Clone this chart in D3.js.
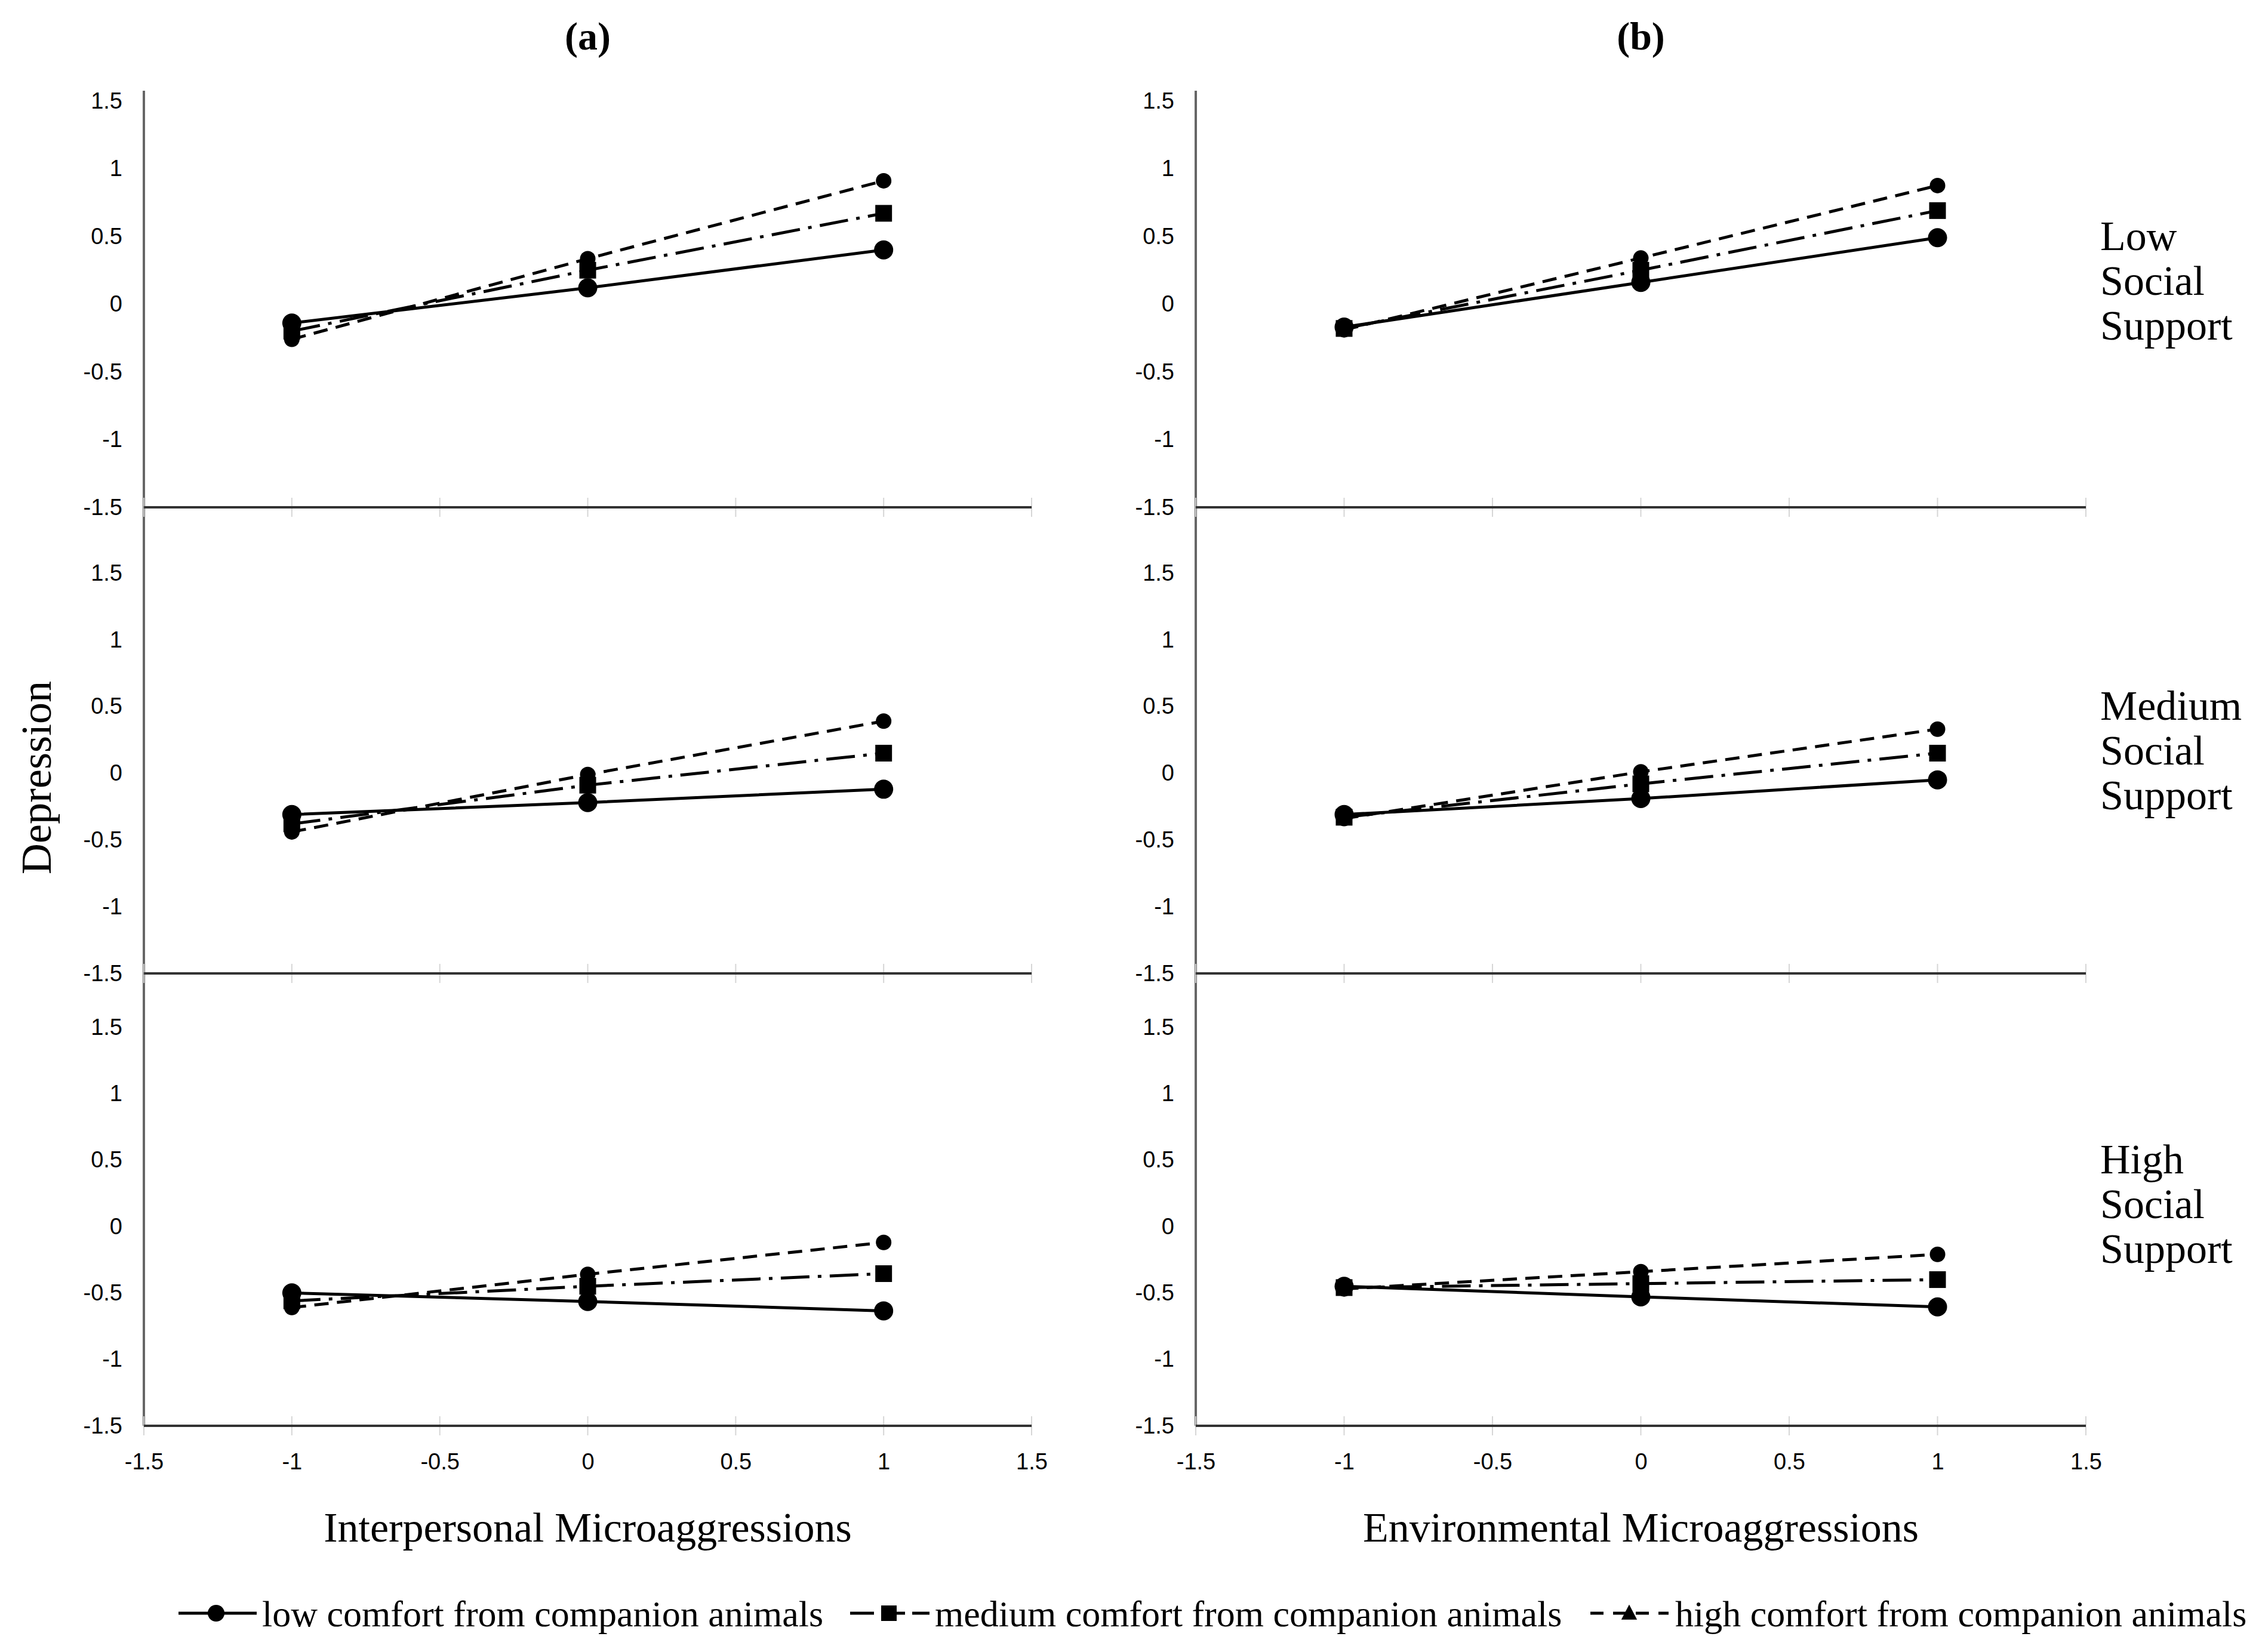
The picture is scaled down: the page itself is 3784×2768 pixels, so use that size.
<!DOCTYPE html>
<html>
<head>
<meta charset="utf-8">
<script src="https://cdn.jsdelivr.net/npm/d3@7"></script>
<style>
  html, body { margin: 0; padding: 0; background: #fff; }
  svg { display: block; }
</style>
</head>
<body>
<div id="chart"></div>
<script>
// Predictor levels (-1 SD, mean, +1 SD) and the shared axis ticks
const predictorLevels = [-1, 0, 1];
const axisTicks = [-1.5, -1, -0.5, 0, 0.5, 1, 1.5];

const panelTitles = ["(a)", "(b)"];
const axisTitles = ["Interpersonal Microaggressions", "Environmental Microaggressions"];
const supportLabels = [
    ["Low", "Social", "Support"],
    ["Medium", "Social", "Support"],
    ["High", "Social", "Support"]
];
const comfortLabels = [
    "low comfort from companion animals",
    "medium comfort from companion animals",
    "high comfort from companion animals"
];

// Panel (a) - rows are low / medium / high social support
const interpLowComfort = [[-0.14, 0.12, 0.40], [-0.31, -0.22, -0.12], [-0.50, -0.565, -0.635]];
const interpMedComfort = [[-0.20, 0.25, 0.67], [-0.38, -0.09, 0.15], [-0.56, -0.45, -0.355]];
const interpHighComfort = [[-0.26, 0.335, 0.91], [-0.44, -0.01, 0.39], [-0.61, -0.36, -0.12]];

// Panel (b)
const envLowComfort = [[-0.17, 0.16, 0.49], [-0.31, -0.19, -0.05], [-0.45, -0.53, -0.605]];
const envMedComfort = [[-0.18, 0.25, 0.69], [-0.33, -0.08, 0.15], [-0.46, -0.43, -0.40]];
const envHighComfort = [[-0.19, 0.34, 0.875], [-0.34, 0.01, 0.33], [-0.47, -0.34, -0.21]];

const panelSeries = [
    [interpLowComfort, interpMedComfort, interpHighComfort],
    [envLowComfort, envMedComfort, envHighComfort]
];

// Layout
const width = 3784, height = 2768;
const panelRanges = [[241, 1728], [2003, 3494]];
const rowRanges = [[850, 169], [1631, 960], [2389, 1721]];
const axisTop = 152;

const serif = "'Liberation Serif', 'Times New Roman', serif";
const sans = "'Liberation Sans', Arial, sans-serif";

// line style + marker per comfort level
const seriesStyle = [
    { dash: null, marker: "circle", size: 16 },
    { dash: "48,14,6,14", marker: "square", size: 28 },
    { dash: "24,14", marker: "circle", size: 13 }
];

const svg = d3.create("svg")
    .attr("width", width)
    .attr("height", height)
    .attr("viewBox", [0, 0, width, height])
    .style("background", "#fff");

function drawMarker(g, kind, size, cx, cy) {
    if (kind === "circle") {
        g.append("circle").attr("cx", cx).attr("cy", cy).attr("r", size).attr("fill", "#000");
    } else if (kind === "square") {
        g.append("rect")
            .attr("x", cx - size / 2).attr("y", cy - size / 2)
            .attr("width", size).attr("height", size)
            .attr("fill", "#000");
    } else {
        const s = size;
        g.append("path")
            .attr("d", `M${cx},${cy - s * 0.6}L${cx + s * 0.55},${cy + s * 0.45}L${cx - s * 0.55},${cy + s * 0.45}Z`)
            .attr("fill", "#000");
    }
}

panelSeries.forEach((seriesList, p) => {
    const x = d3.scaleLinear().domain([-1.5, 1.5]).range(panelRanges[p]);

    // Panel title
    svg.append("text")
        .attr("x", x(0)).attr("y", 60).attr("dy", "0.35em")
        .attr("text-anchor", "middle")
        .style("font-family", serif).style("font-weight", "bold").style("font-size", "66px")
        .text(panelTitles[p]);

    // Continuous vertical axis line through all three rows
    svg.append("line")
        .attr("x1", x(-1.5)).attr("x2", x(-1.5))
        .attr("y1", axisTop).attr("y2", rowRanges[2][0])
        .attr("stroke", "#666").attr("stroke-width", 4);

    rowRanges.forEach((range, r) => {
        const y = d3.scaleLinear().domain([-1.5, 1.5]).range(range);
        const g = svg.append("g");

        // Y axis labels
        const yAxis = g.append("g")
            .attr("transform", `translate(${x(-1.5)},0)`)
            .call(d3.axisLeft(y).tickValues(axisTicks).tickSize(0).tickPadding(36).tickFormat(d => String(d)));
        yAxis.select(".domain").remove();
        yAxis.selectAll("text")
            .style("font-family", sans).style("font-size", "38px").attr("fill", "#000");

        // Faint tick marks along the bottom line
        g.selectAll(".tick-mark")
            .data(axisTicks)
            .join("line")
            .attr("x1", d => x(d)).attr("x2", d => x(d))
            .attr("y1", y(-1.5) - 16).attr("y2", y(-1.5) + 16)
            .attr("stroke", "#d6d6d6").attr("stroke-width", 2);

        // Horizontal line at -1.5
        g.append("line")
            .attr("x1", x(-1.5)).attr("x2", x(1.5))
            .attr("y1", y(-1.5)).attr("y2", y(-1.5))
            .attr("stroke", "#333").attr("stroke-width", 4);

        // Bottom row gets the x tick labels
        if (r === rowRanges.length - 1) {
            const xAxis = g.append("g")
                .attr("transform", `translate(0,${y(-1.5)})`)
                .call(d3.axisBottom(x).tickValues(axisTicks).tickSize(0).tickFormat(d => String(d)));
            xAxis.select(".domain").remove();
            xAxis.selectAll("text")
                .attr("y", 60).attr("dy", "0.35em")
                .style("font-family", sans).style("font-size", "38px").attr("fill", "#000");
        }

        const line = d3.line()
            .x((d, i) => x(predictorLevels[i]))
            .y(d => y(d));

        seriesList.forEach((series, s) => {
            const st = seriesStyle[s];
            const values = series[r];
            g.append("path")
                .datum(values)
                .attr("fill", "none")
                .attr("stroke", "#000")
                .attr("stroke-width", 5)
                .attr("stroke-dasharray", st.dash)
                .attr("d", line);
            values.forEach((v, i) => drawMarker(g, st.marker, st.size, x(predictorLevels[i]), y(v)));
        });

        // Social support label on the right of panel (b)
        if (p === 1) {
            const first = y(0.5) - 2;
            g.append("text")
                .style("font-family", serif).style("font-size", "70px")
                .selectAll("tspan")
                .data(supportLabels[r])
                .join("tspan")
                .attr("x", 3518)
                .attr("y", (d, i) => first + i * 75)
                .attr("dy", "0.35em")
                .text(d => d);
        }
    });

    // X axis title
    svg.append("text")
        .attr("x", x(0)).attr("y", 2558).attr("dy", "0.35em")
        .attr("text-anchor", "middle")
        .style("font-family", serif).style("font-size", "70px")
        .text(axisTitles[p]);
});

// Y axis title
svg.append("text")
    .attr("transform", "translate(60,1303) rotate(-90)")
    .attr("text-anchor", "middle").attr("dy", "0.35em")
    .style("font-family", serif).style("font-size", "72px")
    .text("Depression");

// Legend
const legendY = 2703;
const legendItems = [
    { lineX: [299, 430], markerX: 362, textX: 439 },
    { lineX: [1424, 1557], markerX: 1489, textX: 1566 },
    { lineX: [2664, 2795], markerX: 2729, textX: 2806 }
];
const legendMarkers = [["circle", 14], ["square", 26], ["triangle", 24]];

legendItems.forEach((item, i) => {
    const g = svg.append("g");
    g.append("line")
        .attr("x1", item.lineX[0]).attr("x2", item.lineX[1])
        .attr("y1", legendY).attr("y2", legendY)
        .attr("stroke", "#000").attr("stroke-width", 5)
        .attr("stroke-dasharray", i === 0 ? null : (i === 1 ? "40,12" : "22,16"));
    drawMarker(g, legendMarkers[i][0], legendMarkers[i][1], item.markerX, legendY);
    g.append("text")
        .attr("x", item.textX).attr("y", legendY).attr("dy", "0.35em")
        .style("font-family", serif).style("font-size", "62px")
        .text(comfortLabels[i]);
});

document.getElementById("chart").appendChild(svg.node());
</script>
</body>
</html>
